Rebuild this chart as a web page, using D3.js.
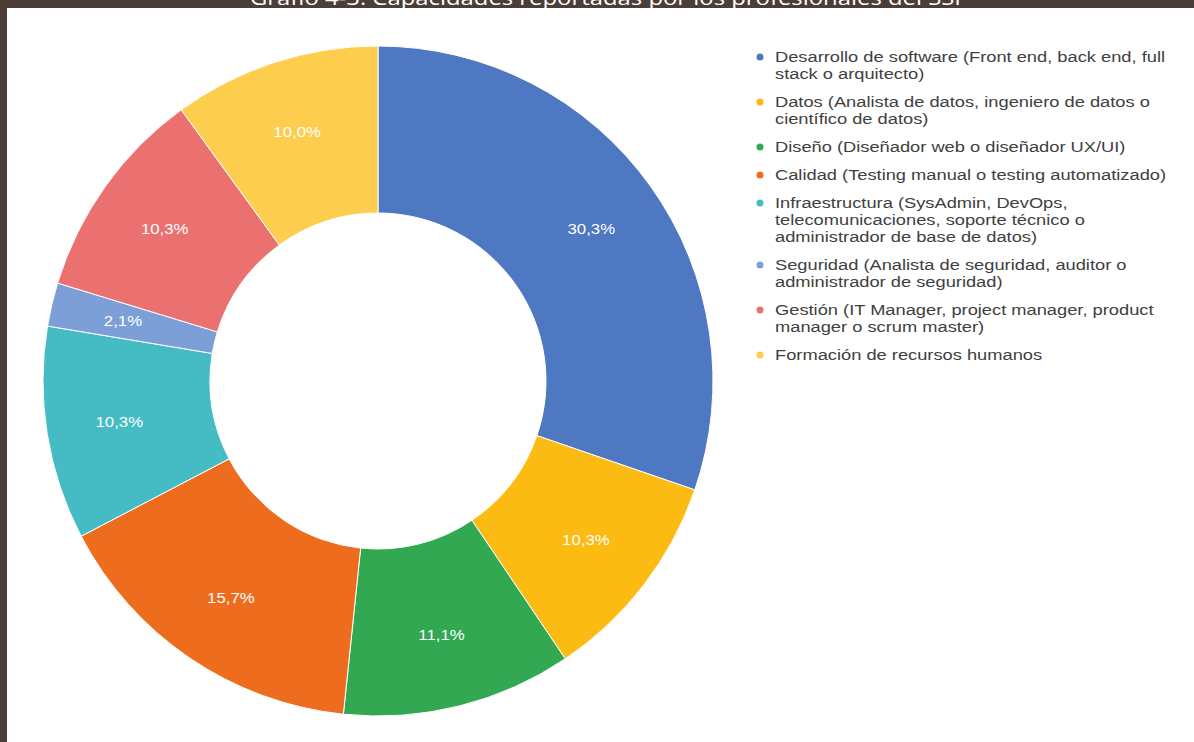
<!DOCTYPE html>
<html>
<head>
<meta charset="utf-8">
<script src="https://cdn.jsdelivr.net/npm/d3@7"></script>
<style>
  html, body { margin: 0; padding: 0; background: #4b3e38; }
  svg { display: block; }
</style>
</head>
<body>
<svg id="chart" width="1194" height="742"></svg>
<script>
const title = "Grafio 4-3: Capacidades reportadas por los profesionales del SSI";
const categories = [
  ["Desarrollo de software (Front end, back end, full", "stack o arquitecto)"],
  ["Datos (Analista de datos, ingeniero de datos o", "científico de datos)"],
  ["Diseño (Diseñador web o diseñador UX/UI)"],
  ["Calidad (Testing manual o testing automatizado)"],
  ["Infraestructura (SysAdmin, DevOps,", "telecomunicaciones, soporte técnico o", "administrador de base de datos)"],
  ["Seguridad (Analista de seguridad, auditor o", "administrador de seguridad)"],
  ["Gestión (IT Manager, project manager, product", "manager o scrum master)"],
  ["Formación de recursos humanos"]
];
const values = [30.3, 10.3, 11.1, 15.7, 10.3, 2.1, 10.3, 10.0];
const valueLabels = ["30,3%", "10,3%", "11,1%", "15,7%", "10,3%", "2,1%", "10,3%", "10,0%"];
const colors = ["#4f78c2", "#fbbb12", "#33a853", "#ee6c1e", "#45bcc4", "#7c9fd8", "#eb7170", "#fdcd4e"];

const svg = d3.select("#chart");
// white panel
svg.append("rect").attr("x", 7).attr("y", 8).attr("width", 1194 - 7).attr("height", 742 - 8).attr("fill", "#ffffff");

// title (cut off at top, as in the reference)
svg.append("text")
  .attr("x", 250).attr("y", 5)
  .attr("textLength", 711).attr("lengthAdjust", "spacingAndGlyphs")
  .attr("font-family", "Open Sans, sans-serif").attr("font-size", 20)
  .attr("fill", "#ffffff")
  .text(title);

const cx = 378, cy = 381, rOuter = 335, rInner = 168, rLabel = 262;
const sx = 1.2; // horizontal stretch of text seen in the reference
const idx = d3.range(values.length);
const pie = d3.pie().value(i => values[i]).sort(null);
const arcs = pie(idx);
const arc = d3.arc().innerRadius(rInner).outerRadius(rOuter);
const labelArc = d3.arc().innerRadius(rLabel).outerRadius(rLabel);
const color = d3.scaleOrdinal().domain(idx).range(colors);

const g = svg.append("g").attr("transform", `translate(${cx},${cy})`);
g.selectAll("path").data(arcs).join("path")
  .attr("d", arc)
  .attr("fill", d => color(d.data))
  .attr("stroke", "#ffffff").attr("stroke-width", 1);

g.selectAll("text.lbl").data(arcs).join("text")
  .attr("class", "lbl")
  .attr("transform", d => `translate(${labelArc.centroid(d)}) scale(${sx},1)`)
  .attr("text-anchor", "middle").attr("dy", "0.35em")
  .attr("font-family", "Liberation Sans, Arial, sans-serif")
  .attr("font-size", 14).attr("fill", "#ffffff")
  .text(d => valueLabels[d.data]);

// legend
const lx = 760, tx = 775, lineH = 17, gap = 11;
let y = 57;
const legend = svg.append("g");
categories.forEach((lines, i) => {
  legend.append("circle").attr("cx", lx).attr("cy", y).attr("r", 3.5).attr("fill", colors[i]);
  const t = legend.append("text")
    .attr("transform", `translate(${tx},0) scale(1.18,1)`)
    .attr("font-family", "Liberation Sans, Arial, sans-serif")
    .attr("font-size", 15.5).attr("fill", "#404040");
  lines.forEach((ln, j) => {
    t.append("tspan").attr("x", 0).attr("y", y + j * lineH).attr("dy", "0.35em").text(ln);
  });
  y += lines.length * lineH + gap;
});
</script>
</body>
</html>
